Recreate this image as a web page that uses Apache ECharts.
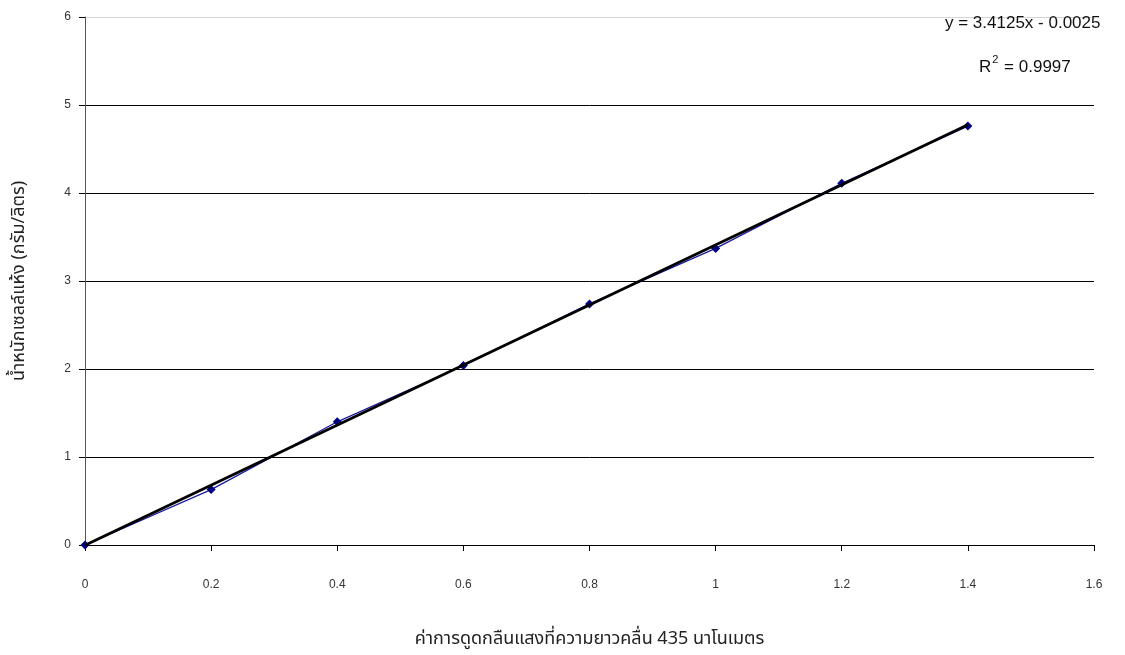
<!DOCTYPE html>
<html>
<head>
<meta charset="utf-8">
<script src="https://cdn.jsdelivr.net/npm/echarts@6/dist/echarts.min.js"></script>
<style>
  html, body { margin: 0; padding: 0; background: #fff; }
  #chart { width: 1125px; height: 655px; }
</style>
</head>
<body>
<div id="chart"></div>
<script>
// Absorbance at 435 nm vs dry cell weight (g/L)
const absorbance = [0, 0.2, 0.4, 0.6, 0.8, 1.0, 1.2, 1.4];
const dryWeight = [0, 0.63, 1.40, 2.04, 2.74, 3.37, 4.11, 4.76];

// Linear fit reported on the chart
const slope = 3.4125;
const intercept = -0.0025;
const rSquared = '0.9997';
const fitRange = [0, 1.4];

const xTitle = 'ค่าการดูดกลืนแสงที่ความยาวคลื่น 435 นาโนเมตร';
const yTitle = 'น้ำหนักเซลล์แห้ง (กรัม/ลิตร)';

const font = '"Liberation Sans", Arial, sans-serif';
const thaiFont = '"Noto Sans Thai", "Loma", "Garuda", "Tlwg Typo", sans-serif';

const fitLine = fitRange.map(x => [x, slope * x + intercept]);
const points = absorbance.map((x, i) => [x, dryWeight[i]]);

const chart = echarts.init(document.getElementById('chart'));
chart.setOption({
  animation: false,
  backgroundColor: '#ffffff',
  grid: { left: 85, right: 31, top: 17, bottom: 110, containLabel: false, outerBoundsMode: 'none' },
  xAxis: {
    type: 'value', min: 0, max: 1.6, interval: 0.2,
    name: xTitle, nameLocation: 'middle', nameGap: 86,
    nameTextStyle: { fontFamily: thaiFont, fontSize: 18, color: '#222' },
    axisLine: { show: true, lineStyle: { color: '#000', width: 1 } },
    axisTick: { show: true, inside: false, length: 6, lineStyle: { color: '#000' } },
    axisLabel: { fontFamily: font, fontSize: 12, color: '#333', margin: 34,
                 formatter: v => String(Math.round(v * 10) / 10) },
    splitLine: { show: false }
  },
  yAxis: {
    type: 'value', min: 0, max: 6, interval: 1,
    name: yTitle, nameLocation: 'middle', nameGap: 56, nameRotate: 90,
    nameTextStyle: { fontFamily: thaiFont, fontSize: 18, color: '#222' },
    axisLine: { show: true, lineStyle: { color: '#555', width: 1 } },
    axisTick: { show: true, inside: false, length: 6, lineStyle: { color: '#000' } },
    axisLabel: { fontFamily: font, fontSize: 12, color: '#333', margin: 14 },
    splitLine: { show: true, lineStyle: { color: '#000', width: 1 } }
  },
  series: [
    {
      type: 'line', data: points,
      lineStyle: { color: '#1a1aa0', width: 1.3 },
      itemStyle: { color: '#000080' },
      symbol: 'diamond', symbolSize: 9, showSymbol: true,
      z: 2
    },
    {
      type: 'line', data: fitLine,
      lineStyle: { color: '#000', width: 2.8 },
      symbol: 'none', z: 3
    }
  ],
  graphic: [
    {
      // white-out the top split line, then redraw it light grey
      type: 'rect', z: 50,
      shape: { x: 86, y: 15, width: 1010, height: 4 },
      style: { fill: '#fff' }
    },
    {
      type: 'line', z: 51,
      shape: { x1: 86, y1: 17.5, x2: 1094, y2: 17.5 },
      style: { stroke: '#d4d4d4', lineWidth: 1 }
    },
    {
      type: 'text', left: 945, top: 15, z: 60,
      style: { text: 'y = ' + slope + 'x - ' + Math.abs(intercept).toFixed(4),
               font: '17px ' + font, fill: '#111' }
    },
    {
      type: 'text', left: 979, top: 54, z: 60,
      style: {
        text: '{b|R}{s|2}{b| = ' + rSquared + '}',
        rich: {
          b: { font: '17px ' + font, fill: '#111', verticalAlign: 'bottom' },
          s: { font: '11px ' + font, fill: '#111', verticalAlign: 'top', padding: [0, 1, 11, 1] }
        }
      }
    }
  ]
});
</script>
</body>
</html>
